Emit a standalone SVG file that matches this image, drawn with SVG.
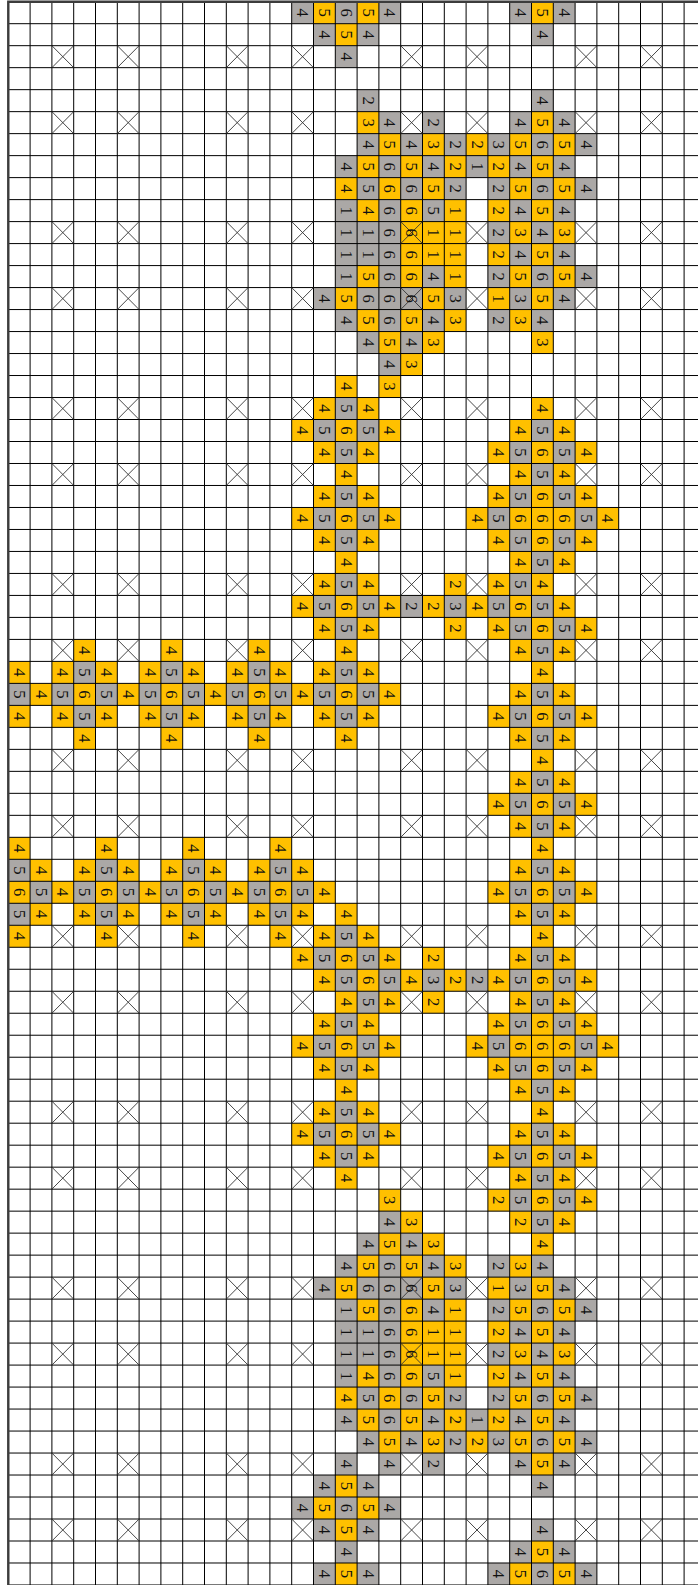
<svg xmlns="http://www.w3.org/2000/svg" width="698" height="1585" viewBox="0 0 698 1585">
<style>
.y{fill:#FFC000}
.g{fill:#ABA8A6}
.x{fill:none;stroke:#333;stroke-width:0.9}
.grid{fill:none;stroke:#000;stroke-width:1}
.border{fill:none;stroke:#3c3c3c;stroke-width:2.4}
.t text{font-family:"Liberation Serif",serif;font-size:15.2px;text-anchor:middle;dominant-baseline:central;fill:#111}
</style>
<rect width="698" height="1585" fill="#fff"/>
<g id="board" transform="translate(8.3 1.7) scale(1.09 1.0995)">
<path id="yellow-cells" class="y" d="
M280 0h20v20h-20zM320 0h20v20h-20zM480 0h20v20h-20z
M300 20h20v20h-20z
M320 100h20v20h-20zM480 100h20v20h-20z
M340 120h20v20h-20zM380 120h20v20h-20zM420 120h20v20h-20zM460 120h20v20h-20zM500 120h20v20h-20z
M320 140h20v20h-20zM360 140h20v20h-20zM400 140h20v20h-20zM440 140h20v20h-20zM480 140h20v20h-20z
M300 160h20v20h-20zM340 160h20v20h-20zM380 160h20v20h-20zM460 160h20v20h-20zM500 160h20v20h-20z
M320 180h20v20h-20zM360 180h20v20h-20zM400 180h20v20h-20zM440 180h20v20h-20zM480 180h20v20h-20z
M360 200h20v20h-20zM380 200h20v20h-20zM400 200h20v20h-20zM460 200h20v20h-20zM500 200h20v20h-20z
M360 220h20v20h-20zM380 220h20v20h-20zM400 220h20v20h-20zM440 220h20v20h-20zM480 220h20v20h-20z
M320 240h20v20h-20zM360 240h20v20h-20zM400 240h20v20h-20zM460 240h20v20h-20zM500 240h20v20h-20z
M300 260h20v20h-20zM380 260h20v20h-20zM440 260h20v20h-20zM480 260h20v20h-20z
M320 280h20v20h-20zM360 280h20v20h-20zM400 280h20v20h-20zM460 280h20v20h-20z
M340 300h20v20h-20zM380 300h20v20h-20zM480 300h20v20h-20z
M360 320h20v20h-20z
M300 340h20v20h-20zM340 340h20v20h-20z
M280 360h20v20h-20zM320 360h20v20h-20zM480 360h20v20h-20z
M260 380h20v20h-20zM300 380h20v20h-20zM340 380h20v20h-20zM460 380h20v20h-20zM500 380h20v20h-20z
M280 400h20v20h-20zM320 400h20v20h-20zM440 400h20v20h-20zM480 400h20v20h-20zM520 400h20v20h-20z
M300 420h20v20h-20zM460 420h20v20h-20zM500 420h20v20h-20z
M280 440h20v20h-20zM320 440h20v20h-20zM440 440h20v20h-20zM480 440h20v20h-20zM520 440h20v20h-20z
M260 460h20v20h-20zM300 460h20v20h-20zM340 460h20v20h-20zM420 460h20v20h-20zM460 460h20v20h-20zM480 460h20v20h-20zM500 460h20v20h-20zM540 460h20v20h-20z
M280 480h20v20h-20zM320 480h20v20h-20zM440 480h20v20h-20zM480 480h20v20h-20zM520 480h20v20h-20z
M300 500h20v20h-20zM460 500h20v20h-20zM500 500h20v20h-20z
M280 520h20v20h-20zM320 520h20v20h-20zM400 520h20v20h-20zM440 520h20v20h-20zM480 520h20v20h-20z
M260 540h20v20h-20zM300 540h20v20h-20zM340 540h20v20h-20zM380 540h20v20h-20zM420 540h20v20h-20zM460 540h20v20h-20zM500 540h20v20h-20z
M280 560h20v20h-20zM320 560h20v20h-20zM400 560h20v20h-20zM440 560h20v20h-20zM480 560h20v20h-20zM520 560h20v20h-20z
M60 580h20v20h-20zM140 580h20v20h-20zM220 580h20v20h-20zM300 580h20v20h-20zM460 580h20v20h-20zM500 580h20v20h-20z
M0 600h20v20h-20zM40 600h20v20h-20zM80 600h20v20h-20zM120 600h20v20h-20zM160 600h20v20h-20zM200 600h20v20h-20zM240 600h20v20h-20zM280 600h20v20h-20zM320 600h20v20h-20zM480 600h20v20h-20z
M20 620h20v20h-20zM60 620h20v20h-20zM100 620h20v20h-20zM140 620h20v20h-20zM180 620h20v20h-20zM220 620h20v20h-20zM260 620h20v20h-20zM300 620h20v20h-20zM340 620h20v20h-20zM460 620h20v20h-20zM500 620h20v20h-20z
M0 640h20v20h-20zM40 640h20v20h-20zM80 640h20v20h-20zM120 640h20v20h-20zM160 640h20v20h-20zM200 640h20v20h-20zM240 640h20v20h-20zM280 640h20v20h-20zM320 640h20v20h-20zM440 640h20v20h-20zM480 640h20v20h-20zM520 640h20v20h-20z
M60 660h20v20h-20zM140 660h20v20h-20zM220 660h20v20h-20zM300 660h20v20h-20zM460 660h20v20h-20zM500 660h20v20h-20z
M480 680h20v20h-20z
M460 700h20v20h-20zM500 700h20v20h-20z
M440 720h20v20h-20zM480 720h20v20h-20zM520 720h20v20h-20z
M460 740h20v20h-20zM500 740h20v20h-20z
M0 760h20v20h-20zM80 760h20v20h-20zM160 760h20v20h-20zM240 760h20v20h-20zM480 760h20v20h-20z
M20 780h20v20h-20zM60 780h20v20h-20zM100 780h20v20h-20zM140 780h20v20h-20zM180 780h20v20h-20zM220 780h20v20h-20zM260 780h20v20h-20zM460 780h20v20h-20zM500 780h20v20h-20z
M0 800h20v20h-20zM40 800h20v20h-20zM80 800h20v20h-20zM120 800h20v20h-20zM160 800h20v20h-20zM200 800h20v20h-20zM240 800h20v20h-20zM280 800h20v20h-20zM440 800h20v20h-20zM480 800h20v20h-20zM520 800h20v20h-20z
M20 820h20v20h-20zM60 820h20v20h-20zM100 820h20v20h-20zM140 820h20v20h-20zM180 820h20v20h-20zM220 820h20v20h-20zM260 820h20v20h-20zM300 820h20v20h-20zM460 820h20v20h-20zM500 820h20v20h-20z
M0 840h20v20h-20zM80 840h20v20h-20zM160 840h20v20h-20zM240 840h20v20h-20zM280 840h20v20h-20zM320 840h20v20h-20zM480 840h20v20h-20z
M260 860h20v20h-20zM300 860h20v20h-20zM340 860h20v20h-20zM380 860h20v20h-20zM460 860h20v20h-20zM500 860h20v20h-20z
M280 880h20v20h-20zM320 880h20v20h-20zM360 880h20v20h-20zM400 880h20v20h-20zM440 880h20v20h-20zM480 880h20v20h-20zM520 880h20v20h-20z
M300 900h20v20h-20zM340 900h20v20h-20zM380 900h20v20h-20zM460 900h20v20h-20zM500 900h20v20h-20z
M280 920h20v20h-20zM320 920h20v20h-20zM440 920h20v20h-20zM480 920h20v20h-20zM520 920h20v20h-20z
M260 940h20v20h-20zM300 940h20v20h-20zM340 940h20v20h-20zM420 940h20v20h-20zM460 940h20v20h-20zM480 940h20v20h-20zM500 940h20v20h-20zM540 940h20v20h-20z
M280 960h20v20h-20zM320 960h20v20h-20zM440 960h20v20h-20zM480 960h20v20h-20zM520 960h20v20h-20z
M300 980h20v20h-20zM460 980h20v20h-20zM500 980h20v20h-20z
M280 1000h20v20h-20zM320 1000h20v20h-20zM480 1000h20v20h-20z
M260 1020h20v20h-20zM300 1020h20v20h-20zM340 1020h20v20h-20zM460 1020h20v20h-20zM500 1020h20v20h-20z
M280 1040h20v20h-20zM320 1040h20v20h-20zM440 1040h20v20h-20zM480 1040h20v20h-20zM520 1040h20v20h-20z
M300 1060h20v20h-20zM460 1060h20v20h-20zM500 1060h20v20h-20z
M340 1080h20v20h-20zM440 1080h20v20h-20zM480 1080h20v20h-20zM520 1080h20v20h-20z
M360 1100h20v20h-20zM460 1100h20v20h-20zM500 1100h20v20h-20z
M340 1120h20v20h-20zM380 1120h20v20h-20zM480 1120h20v20h-20z
M320 1140h20v20h-20zM360 1140h20v20h-20zM400 1140h20v20h-20zM460 1140h20v20h-20z
M300 1160h20v20h-20zM380 1160h20v20h-20zM440 1160h20v20h-20zM480 1160h20v20h-20z
M320 1180h20v20h-20zM360 1180h20v20h-20zM400 1180h20v20h-20zM460 1180h20v20h-20zM500 1180h20v20h-20z
M360 1200h20v20h-20zM380 1200h20v20h-20zM400 1200h20v20h-20zM440 1200h20v20h-20zM480 1200h20v20h-20z
M360 1220h20v20h-20zM380 1220h20v20h-20zM400 1220h20v20h-20zM460 1220h20v20h-20zM500 1220h20v20h-20z
M320 1240h20v20h-20zM360 1240h20v20h-20zM400 1240h20v20h-20zM440 1240h20v20h-20zM480 1240h20v20h-20z
M300 1260h20v20h-20zM340 1260h20v20h-20zM380 1260h20v20h-20zM460 1260h20v20h-20zM500 1260h20v20h-20z
M320 1280h20v20h-20zM360 1280h20v20h-20zM400 1280h20v20h-20zM440 1280h20v20h-20zM480 1280h20v20h-20z
M340 1300h20v20h-20zM380 1300h20v20h-20zM420 1300h20v20h-20zM460 1300h20v20h-20zM500 1300h20v20h-20z
M480 1320h20v20h-20z
M300 1340h20v20h-20z
M280 1360h20v20h-20zM320 1360h20v20h-20z
M300 1380h20v20h-20z
M480 1400h20v20h-20z
M300 1420h20v20h-20zM460 1420h20v20h-20zM500 1420h20v20h-20z"/>
<path id="gray-cells" class="g" d="
M260 0h20v20h-20zM300 0h20v20h-20zM340 0h20v20h-20zM460 0h20v20h-20zM500 0h20v20h-20z
M280 20h20v20h-20zM320 20h20v20h-20zM480 20h20v20h-20z
M300 40h20v20h-20z
M320 80h20v20h-20zM480 80h20v20h-20z
M340 100h20v20h-20zM380 100h20v20h-20zM460 100h20v20h-20zM500 100h20v20h-20z
M320 120h20v20h-20zM360 120h20v20h-20zM400 120h20v20h-20zM440 120h20v20h-20zM480 120h20v20h-20zM520 120h20v20h-20z
M300 140h20v20h-20zM340 140h20v20h-20zM380 140h20v20h-20zM420 140h20v20h-20zM460 140h20v20h-20zM500 140h20v20h-20z
M320 160h20v20h-20zM360 160h20v20h-20zM400 160h20v20h-20zM440 160h20v20h-20zM480 160h20v20h-20zM520 160h20v20h-20z
M300 180h20v20h-20zM340 180h20v20h-20zM380 180h20v20h-20zM460 180h20v20h-20zM500 180h20v20h-20z
M300 200h20v20h-20zM320 200h20v20h-20zM340 200h20v20h-20zM440 200h20v20h-20zM480 200h20v20h-20z
M300 220h20v20h-20zM320 220h20v20h-20zM340 220h20v20h-20zM460 220h20v20h-20zM500 220h20v20h-20z
M300 240h20v20h-20zM340 240h20v20h-20zM380 240h20v20h-20zM440 240h20v20h-20zM480 240h20v20h-20zM520 240h20v20h-20z
M280 260h20v20h-20zM320 260h20v20h-20zM340 260h20v20h-20zM360 260h20v20h-20zM400 260h20v20h-20zM460 260h20v20h-20zM500 260h20v20h-20z
M300 280h20v20h-20zM340 280h20v20h-20zM380 280h20v20h-20zM440 280h20v20h-20zM480 280h20v20h-20z
M320 300h20v20h-20zM360 300h20v20h-20z
M340 320h20v20h-20z
M300 360h20v20h-20z
M280 380h20v20h-20zM320 380h20v20h-20zM480 380h20v20h-20z
M300 400h20v20h-20zM460 400h20v20h-20zM500 400h20v20h-20z
M480 420h20v20h-20z
M300 440h20v20h-20zM460 440h20v20h-20zM500 440h20v20h-20z
M280 460h20v20h-20zM320 460h20v20h-20zM440 460h20v20h-20zM520 460h20v20h-20z
M300 480h20v20h-20zM460 480h20v20h-20zM500 480h20v20h-20z
M480 500h20v20h-20z
M300 520h20v20h-20zM460 520h20v20h-20z
M280 540h20v20h-20zM320 540h20v20h-20zM360 540h20v20h-20zM400 540h20v20h-20zM440 540h20v20h-20zM480 540h20v20h-20z
M300 560h20v20h-20zM460 560h20v20h-20zM500 560h20v20h-20z
M480 580h20v20h-20z
M60 600h20v20h-20zM140 600h20v20h-20zM220 600h20v20h-20zM300 600h20v20h-20z
M0 620h20v20h-20zM40 620h20v20h-20zM80 620h20v20h-20zM120 620h20v20h-20zM160 620h20v20h-20zM200 620h20v20h-20zM240 620h20v20h-20zM280 620h20v20h-20zM320 620h20v20h-20zM480 620h20v20h-20z
M60 640h20v20h-20zM140 640h20v20h-20zM220 640h20v20h-20zM300 640h20v20h-20zM460 640h20v20h-20zM500 640h20v20h-20z
M480 660h20v20h-20z
M480 700h20v20h-20z
M460 720h20v20h-20zM500 720h20v20h-20z
M480 740h20v20h-20z
M0 780h20v20h-20zM80 780h20v20h-20zM160 780h20v20h-20zM240 780h20v20h-20zM480 780h20v20h-20z
M20 800h20v20h-20zM60 800h20v20h-20zM100 800h20v20h-20zM140 800h20v20h-20zM180 800h20v20h-20zM220 800h20v20h-20zM260 800h20v20h-20zM460 800h20v20h-20zM500 800h20v20h-20z
M0 820h20v20h-20zM80 820h20v20h-20zM160 820h20v20h-20zM240 820h20v20h-20zM480 820h20v20h-20z
M300 840h20v20h-20z
M280 860h20v20h-20zM320 860h20v20h-20zM480 860h20v20h-20z
M300 880h20v20h-20zM340 880h20v20h-20zM380 880h20v20h-20zM420 880h20v20h-20zM460 880h20v20h-20zM500 880h20v20h-20z
M320 900h20v20h-20zM480 900h20v20h-20z
M300 920h20v20h-20zM460 920h20v20h-20zM500 920h20v20h-20z
M280 940h20v20h-20zM320 940h20v20h-20zM440 940h20v20h-20zM520 940h20v20h-20z
M300 960h20v20h-20zM460 960h20v20h-20zM500 960h20v20h-20z
M480 980h20v20h-20z
M300 1000h20v20h-20z
M280 1020h20v20h-20zM320 1020h20v20h-20zM480 1020h20v20h-20z
M300 1040h20v20h-20zM460 1040h20v20h-20zM500 1040h20v20h-20z
M480 1060h20v20h-20z
M460 1080h20v20h-20zM500 1080h20v20h-20z
M340 1100h20v20h-20zM480 1100h20v20h-20z
M320 1120h20v20h-20zM360 1120h20v20h-20z
M300 1140h20v20h-20zM340 1140h20v20h-20zM380 1140h20v20h-20zM440 1140h20v20h-20zM480 1140h20v20h-20z
M280 1160h20v20h-20zM320 1160h20v20h-20zM340 1160h20v20h-20zM360 1160h20v20h-20zM400 1160h20v20h-20zM460 1160h20v20h-20zM500 1160h20v20h-20z
M300 1180h20v20h-20zM340 1180h20v20h-20zM380 1180h20v20h-20zM440 1180h20v20h-20zM480 1180h20v20h-20zM520 1180h20v20h-20z
M300 1200h20v20h-20zM320 1200h20v20h-20zM340 1200h20v20h-20zM460 1200h20v20h-20zM500 1200h20v20h-20z
M300 1220h20v20h-20zM320 1220h20v20h-20zM340 1220h20v20h-20zM440 1220h20v20h-20zM480 1220h20v20h-20z
M300 1240h20v20h-20zM340 1240h20v20h-20zM380 1240h20v20h-20zM460 1240h20v20h-20zM500 1240h20v20h-20z
M320 1260h20v20h-20zM360 1260h20v20h-20zM400 1260h20v20h-20zM440 1260h20v20h-20zM480 1260h20v20h-20zM520 1260h20v20h-20z
M300 1280h20v20h-20zM340 1280h20v20h-20zM380 1280h20v20h-20zM420 1280h20v20h-20zM460 1280h20v20h-20zM500 1280h20v20h-20z
M320 1300h20v20h-20zM360 1300h20v20h-20zM400 1300h20v20h-20zM440 1300h20v20h-20zM480 1300h20v20h-20zM520 1300h20v20h-20z
M300 1320h20v20h-20zM340 1320h20v20h-20zM380 1320h20v20h-20zM460 1320h20v20h-20zM500 1320h20v20h-20z
M280 1340h20v20h-20zM320 1340h20v20h-20zM480 1340h20v20h-20z
M260 1360h20v20h-20zM300 1360h20v20h-20zM340 1360h20v20h-20z
M280 1380h20v20h-20zM320 1380h20v20h-20zM480 1380h20v20h-20z
M300 1400h20v20h-20zM460 1400h20v20h-20zM500 1400h20v20h-20z
M280 1420h20v20h-20zM320 1420h20v20h-20zM440 1420h20v20h-20zM480 1420h20v20h-20zM520 1420h20v20h-20z"/>
<path id="grid" class="grid" vector-effect="non-scaling-stroke" d="M0 0V1442M20 0V1442M40 0V1442M60 0V1442M80 0V1442M100 0V1442M120 0V1442M140 0V1442M160 0V1442M180 0V1442M200 0V1442M220 0V1442M240 0V1442M260 0V1442M280 0V1442M300 0V1442M320 0V1442M340 0V1442M360 0V1442M380 0V1442M400 0V1442M420 0V1442M440 0V1442M460 0V1442M480 0V1442M500 0V1442M520 0V1442M540 0V1442M560 0V1442M580 0V1442M600 0V1442M620 0V1442M640 0V1442
M0 0H642M0 20H642M0 40H642M0 60H642M0 80H642M0 100H642M0 120H642M0 140H642M0 160H642M0 180H642M0 200H642M0 220H642M0 240H642M0 260H642M0 280H642M0 300H642M0 320H642M0 340H642M0 360H642M0 380H642M0 400H642M0 420H642M0 440H642M0 460H642M0 480H642M0 500H642M0 520H642M0 540H642M0 560H642M0 580H642M0 600H642M0 620H642M0 640H642M0 660H642M0 680H642M0 700H642M0 720H642M0 740H642M0 760H642M0 780H642M0 800H642M0 820H642M0 840H642M0 860H642M0 880H642M0 900H642M0 920H642M0 940H642M0 960H642M0 980H642M0 1000H642M0 1020H642M0 1040H642M0 1060H642M0 1080H642M0 1100H642M0 1120H642M0 1140H642M0 1160H642M0 1180H642M0 1200H642M0 1220H642M0 1240H642M0 1260H642M0 1280H642M0 1300H642M0 1320H642M0 1340H642M0 1360H642M0 1380H642M0 1400H642M0 1420H642M0 1440H642"/>
<path id="crosses" class="x" vector-effect="non-scaling-stroke" d="
M40 40l20 20m-20 0l20-20M100 40l20 20m-20 0l20-20M200 40l20 20m-20 0l20-20M260 40l20 20m-20 0l20-20M360 40l20 20m-20 0l20-20M420 40l20 20m-20 0l20-20M520 40l20 20m-20 0l20-20M580 40l20 20m-20 0l20-20
M40 100l20 20m-20 0l20-20M100 100l20 20m-20 0l20-20M200 100l20 20m-20 0l20-20M260 100l20 20m-20 0l20-20M360 100l20 20m-20 0l20-20M420 100l20 20m-20 0l20-20M520 100l20 20m-20 0l20-20M580 100l20 20m-20 0l20-20
M40 200l20 20m-20 0l20-20M100 200l20 20m-20 0l20-20M200 200l20 20m-20 0l20-20M260 200l20 20m-20 0l20-20M360 200l20 20m-20 0l20-20M420 200l20 20m-20 0l20-20M520 200l20 20m-20 0l20-20M580 200l20 20m-20 0l20-20
M40 260l20 20m-20 0l20-20M100 260l20 20m-20 0l20-20M200 260l20 20m-20 0l20-20M260 260l20 20m-20 0l20-20M360 260l20 20m-20 0l20-20M420 260l20 20m-20 0l20-20M520 260l20 20m-20 0l20-20M580 260l20 20m-20 0l20-20
M40 360l20 20m-20 0l20-20M100 360l20 20m-20 0l20-20M200 360l20 20m-20 0l20-20M260 360l20 20m-20 0l20-20M360 360l20 20m-20 0l20-20M420 360l20 20m-20 0l20-20M520 360l20 20m-20 0l20-20M580 360l20 20m-20 0l20-20
M40 420l20 20m-20 0l20-20M100 420l20 20m-20 0l20-20M200 420l20 20m-20 0l20-20M260 420l20 20m-20 0l20-20M360 420l20 20m-20 0l20-20M420 420l20 20m-20 0l20-20M520 420l20 20m-20 0l20-20M580 420l20 20m-20 0l20-20
M40 520l20 20m-20 0l20-20M100 520l20 20m-20 0l20-20M200 520l20 20m-20 0l20-20M260 520l20 20m-20 0l20-20M360 520l20 20m-20 0l20-20M420 520l20 20m-20 0l20-20M520 520l20 20m-20 0l20-20M580 520l20 20m-20 0l20-20
M40 580l20 20m-20 0l20-20M100 580l20 20m-20 0l20-20M200 580l20 20m-20 0l20-20M260 580l20 20m-20 0l20-20M360 580l20 20m-20 0l20-20M420 580l20 20m-20 0l20-20M520 580l20 20m-20 0l20-20M580 580l20 20m-20 0l20-20
M40 680l20 20m-20 0l20-20M100 680l20 20m-20 0l20-20M200 680l20 20m-20 0l20-20M260 680l20 20m-20 0l20-20M360 680l20 20m-20 0l20-20M420 680l20 20m-20 0l20-20M520 680l20 20m-20 0l20-20M580 680l20 20m-20 0l20-20
M40 740l20 20m-20 0l20-20M100 740l20 20m-20 0l20-20M200 740l20 20m-20 0l20-20M260 740l20 20m-20 0l20-20M360 740l20 20m-20 0l20-20M420 740l20 20m-20 0l20-20M520 740l20 20m-20 0l20-20M580 740l20 20m-20 0l20-20
M40 840l20 20m-20 0l20-20M100 840l20 20m-20 0l20-20M200 840l20 20m-20 0l20-20M260 840l20 20m-20 0l20-20M360 840l20 20m-20 0l20-20M420 840l20 20m-20 0l20-20M520 840l20 20m-20 0l20-20M580 840l20 20m-20 0l20-20
M40 900l20 20m-20 0l20-20M100 900l20 20m-20 0l20-20M200 900l20 20m-20 0l20-20M260 900l20 20m-20 0l20-20M360 900l20 20m-20 0l20-20M420 900l20 20m-20 0l20-20M520 900l20 20m-20 0l20-20M580 900l20 20m-20 0l20-20
M40 1000l20 20m-20 0l20-20M100 1000l20 20m-20 0l20-20M200 1000l20 20m-20 0l20-20M260 1000l20 20m-20 0l20-20M360 1000l20 20m-20 0l20-20M420 1000l20 20m-20 0l20-20M520 1000l20 20m-20 0l20-20M580 1000l20 20m-20 0l20-20
M40 1060l20 20m-20 0l20-20M100 1060l20 20m-20 0l20-20M200 1060l20 20m-20 0l20-20M260 1060l20 20m-20 0l20-20M360 1060l20 20m-20 0l20-20M420 1060l20 20m-20 0l20-20M520 1060l20 20m-20 0l20-20M580 1060l20 20m-20 0l20-20
M40 1160l20 20m-20 0l20-20M100 1160l20 20m-20 0l20-20M200 1160l20 20m-20 0l20-20M260 1160l20 20m-20 0l20-20M360 1160l20 20m-20 0l20-20M420 1160l20 20m-20 0l20-20M520 1160l20 20m-20 0l20-20M580 1160l20 20m-20 0l20-20
M40 1220l20 20m-20 0l20-20M100 1220l20 20m-20 0l20-20M200 1220l20 20m-20 0l20-20M260 1220l20 20m-20 0l20-20M360 1220l20 20m-20 0l20-20M420 1220l20 20m-20 0l20-20M520 1220l20 20m-20 0l20-20M580 1220l20 20m-20 0l20-20
M40 1320l20 20m-20 0l20-20M100 1320l20 20m-20 0l20-20M200 1320l20 20m-20 0l20-20M260 1320l20 20m-20 0l20-20M360 1320l20 20m-20 0l20-20M420 1320l20 20m-20 0l20-20M520 1320l20 20m-20 0l20-20M580 1320l20 20m-20 0l20-20
M40 1380l20 20m-20 0l20-20M100 1380l20 20m-20 0l20-20M200 1380l20 20m-20 0l20-20M260 1380l20 20m-20 0l20-20M360 1380l20 20m-20 0l20-20M420 1380l20 20m-20 0l20-20M520 1380l20 20m-20 0l20-20M580 1380l20 20m-20 0l20-20"/>
<path id="frame" class="border" vector-effect="non-scaling-stroke" d="M0 1442V0H642"/>
<g id="numbers" class="t" transform="rotate(90)">
<text x="10" y="-270">4</text><text x="10" y="-290">5</text><text x="10" y="-310">6</text><text x="10" y="-330">5</text><text x="10" y="-350">4</text><text x="10" y="-470">4</text><text x="10" y="-490">5</text><text x="10" y="-510">4</text>
<text x="30" y="-290">4</text><text x="30" y="-310">5</text><text x="30" y="-330">4</text><text x="30" y="-490">4</text>
<text x="50" y="-310">4</text>
<text x="90" y="-330">2</text><text x="90" y="-490">4</text>
<text x="110" y="-330">3</text><text x="110" y="-350">4</text><text x="110" y="-390">2</text><text x="110" y="-470">4</text><text x="110" y="-490">5</text><text x="110" y="-510">4</text>
<text x="130" y="-330">4</text><text x="130" y="-350">5</text><text x="130" y="-370">4</text><text x="130" y="-390">3</text><text x="130" y="-410">2</text><text x="130" y="-430">2</text><text x="130" y="-450">3</text><text x="130" y="-470">5</text><text x="130" y="-490">6</text><text x="130" y="-510">5</text><text x="130" y="-530">4</text>
<text x="150" y="-310">4</text><text x="150" y="-330">5</text><text x="150" y="-350">6</text><text x="150" y="-370">5</text><text x="150" y="-390">4</text><text x="150" y="-410">2</text><text x="150" y="-430">1</text><text x="150" y="-450">2</text><text x="150" y="-470">4</text><text x="150" y="-490">5</text><text x="150" y="-510">4</text>
<text x="170" y="-310">4</text><text x="170" y="-330">5</text><text x="170" y="-350">6</text><text x="170" y="-370">6</text><text x="170" y="-390">5</text><text x="170" y="-410">2</text><text x="170" y="-450">2</text><text x="170" y="-470">5</text><text x="170" y="-490">6</text><text x="170" y="-510">5</text><text x="170" y="-530">4</text>
<text x="190" y="-310">1</text><text x="190" y="-330">4</text><text x="190" y="-350">6</text><text x="190" y="-370">6</text><text x="190" y="-390">5</text><text x="190" y="-410">1</text><text x="190" y="-450">2</text><text x="190" y="-470">4</text><text x="190" y="-490">5</text><text x="190" y="-510">4</text>
<text x="210" y="-310">1</text><text x="210" y="-330">1</text><text x="210" y="-350">6</text><text x="210" y="-370">6</text><text x="210" y="-390">1</text><text x="210" y="-410">1</text><text x="210" y="-450">2</text><text x="210" y="-470">3</text><text x="210" y="-490">4</text><text x="210" y="-510">3</text>
<text x="230" y="-310">1</text><text x="230" y="-330">1</text><text x="230" y="-350">6</text><text x="230" y="-370">6</text><text x="230" y="-390">1</text><text x="230" y="-410">1</text><text x="230" y="-450">2</text><text x="230" y="-470">4</text><text x="230" y="-490">5</text><text x="230" y="-510">4</text>
<text x="250" y="-310">1</text><text x="250" y="-330">5</text><text x="250" y="-350">6</text><text x="250" y="-370">6</text><text x="250" y="-390">4</text><text x="250" y="-410">1</text><text x="250" y="-450">2</text><text x="250" y="-470">5</text><text x="250" y="-490">6</text><text x="250" y="-510">5</text><text x="250" y="-530">4</text>
<text x="270" y="-290">4</text><text x="270" y="-310">5</text><text x="270" y="-330">6</text><text x="270" y="-350">6</text><text x="270" y="-370">6</text><text x="270" y="-390">5</text><text x="270" y="-410">3</text><text x="270" y="-450">1</text><text x="270" y="-470">3</text><text x="270" y="-490">5</text><text x="270" y="-510">4</text>
<text x="290" y="-310">4</text><text x="290" y="-330">5</text><text x="290" y="-350">6</text><text x="290" y="-370">5</text><text x="290" y="-390">4</text><text x="290" y="-410">3</text><text x="290" y="-450">2</text><text x="290" y="-470">3</text><text x="290" y="-490">4</text>
<text x="310" y="-330">4</text><text x="310" y="-350">5</text><text x="310" y="-370">4</text><text x="310" y="-390">3</text><text x="310" y="-490">3</text>
<text x="330" y="-350">4</text><text x="330" y="-370">3</text>
<text x="350" y="-310">4</text><text x="350" y="-350">3</text>
<text x="370" y="-290">4</text><text x="370" y="-310">5</text><text x="370" y="-330">4</text><text x="370" y="-490">4</text>
<text x="390" y="-270">4</text><text x="390" y="-290">5</text><text x="390" y="-310">6</text><text x="390" y="-330">5</text><text x="390" y="-350">4</text><text x="390" y="-470">4</text><text x="390" y="-490">5</text><text x="390" y="-510">4</text>
<text x="410" y="-290">4</text><text x="410" y="-310">5</text><text x="410" y="-330">4</text><text x="410" y="-450">4</text><text x="410" y="-470">5</text><text x="410" y="-490">6</text><text x="410" y="-510">5</text><text x="410" y="-530">4</text>
<text x="430" y="-310">4</text><text x="430" y="-470">4</text><text x="430" y="-490">5</text><text x="430" y="-510">4</text>
<text x="450" y="-290">4</text><text x="450" y="-310">5</text><text x="450" y="-330">4</text><text x="450" y="-450">4</text><text x="450" y="-470">5</text><text x="450" y="-490">6</text><text x="450" y="-510">5</text><text x="450" y="-530">4</text>
<text x="470" y="-270">4</text><text x="470" y="-290">5</text><text x="470" y="-310">6</text><text x="470" y="-330">5</text><text x="470" y="-350">4</text><text x="470" y="-430">4</text><text x="470" y="-450">5</text><text x="470" y="-470">6</text><text x="470" y="-490">6</text><text x="470" y="-510">6</text><text x="470" y="-530">5</text><text x="470" y="-550">4</text>
<text x="490" y="-290">4</text><text x="490" y="-310">5</text><text x="490" y="-330">4</text><text x="490" y="-450">4</text><text x="490" y="-470">5</text><text x="490" y="-490">6</text><text x="490" y="-510">5</text><text x="490" y="-530">4</text>
<text x="510" y="-310">4</text><text x="510" y="-470">4</text><text x="510" y="-490">5</text><text x="510" y="-510">4</text>
<text x="530" y="-290">4</text><text x="530" y="-310">5</text><text x="530" y="-330">4</text><text x="530" y="-410">2</text><text x="530" y="-450">4</text><text x="530" y="-470">5</text><text x="530" y="-490">4</text>
<text x="550" y="-270">4</text><text x="550" y="-290">5</text><text x="550" y="-310">6</text><text x="550" y="-330">5</text><text x="550" y="-350">4</text><text x="550" y="-370">2</text><text x="550" y="-390">2</text><text x="550" y="-410">3</text><text x="550" y="-430">4</text><text x="550" y="-450">5</text><text x="550" y="-470">6</text><text x="550" y="-490">5</text><text x="550" y="-510">4</text>
<text x="570" y="-290">4</text><text x="570" y="-310">5</text><text x="570" y="-330">4</text><text x="570" y="-410">2</text><text x="570" y="-450">4</text><text x="570" y="-470">5</text><text x="570" y="-490">6</text><text x="570" y="-510">5</text><text x="570" y="-530">4</text>
<text x="590" y="-70">4</text><text x="590" y="-150">4</text><text x="590" y="-230">4</text><text x="590" y="-310">4</text><text x="590" y="-470">4</text><text x="590" y="-490">5</text><text x="590" y="-510">4</text>
<text x="610" y="-10">4</text><text x="610" y="-50">4</text><text x="610" y="-70">5</text><text x="610" y="-90">4</text><text x="610" y="-130">4</text><text x="610" y="-150">5</text><text x="610" y="-170">4</text><text x="610" y="-210">4</text><text x="610" y="-230">5</text><text x="610" y="-250">4</text><text x="610" y="-290">4</text><text x="610" y="-310">5</text><text x="610" y="-330">4</text><text x="610" y="-490">4</text>
<text x="630" y="-10">5</text><text x="630" y="-30">4</text><text x="630" y="-50">5</text><text x="630" y="-70">6</text><text x="630" y="-90">5</text><text x="630" y="-110">4</text><text x="630" y="-130">5</text><text x="630" y="-150">6</text><text x="630" y="-170">5</text><text x="630" y="-190">4</text><text x="630" y="-210">5</text><text x="630" y="-230">6</text><text x="630" y="-250">5</text><text x="630" y="-270">4</text><text x="630" y="-290">5</text><text x="630" y="-310">6</text><text x="630" y="-330">5</text><text x="630" y="-350">4</text><text x="630" y="-470">4</text><text x="630" y="-490">5</text><text x="630" y="-510">4</text>
<text x="650" y="-10">4</text><text x="650" y="-50">4</text><text x="650" y="-70">5</text><text x="650" y="-90">4</text><text x="650" y="-130">4</text><text x="650" y="-150">5</text><text x="650" y="-170">4</text><text x="650" y="-210">4</text><text x="650" y="-230">5</text><text x="650" y="-250">4</text><text x="650" y="-290">4</text><text x="650" y="-310">5</text><text x="650" y="-330">4</text><text x="650" y="-450">4</text><text x="650" y="-470">5</text><text x="650" y="-490">6</text><text x="650" y="-510">5</text><text x="650" y="-530">4</text>
<text x="670" y="-70">4</text><text x="670" y="-150">4</text><text x="670" y="-230">4</text><text x="670" y="-310">4</text><text x="670" y="-470">4</text><text x="670" y="-490">5</text><text x="670" y="-510">4</text>
<text x="690" y="-490">4</text>
<text x="710" y="-470">4</text><text x="710" y="-490">5</text><text x="710" y="-510">4</text>
<text x="730" y="-450">4</text><text x="730" y="-470">5</text><text x="730" y="-490">6</text><text x="730" y="-510">5</text><text x="730" y="-530">4</text>
<text x="750" y="-470">4</text><text x="750" y="-490">5</text><text x="750" y="-510">4</text>
<text x="770" y="-10">4</text><text x="770" y="-90">4</text><text x="770" y="-170">4</text><text x="770" y="-250">4</text><text x="770" y="-490">4</text>
<text x="790" y="-10">5</text><text x="790" y="-30">4</text><text x="790" y="-70">4</text><text x="790" y="-90">5</text><text x="790" y="-110">4</text><text x="790" y="-150">4</text><text x="790" y="-170">5</text><text x="790" y="-190">4</text><text x="790" y="-230">4</text><text x="790" y="-250">5</text><text x="790" y="-270">4</text><text x="790" y="-470">4</text><text x="790" y="-490">5</text><text x="790" y="-510">4</text>
<text x="810" y="-10">6</text><text x="810" y="-30">5</text><text x="810" y="-50">4</text><text x="810" y="-70">5</text><text x="810" y="-90">6</text><text x="810" y="-110">5</text><text x="810" y="-130">4</text><text x="810" y="-150">5</text><text x="810" y="-170">6</text><text x="810" y="-190">5</text><text x="810" y="-210">4</text><text x="810" y="-230">5</text><text x="810" y="-250">6</text><text x="810" y="-270">5</text><text x="810" y="-290">4</text><text x="810" y="-450">4</text><text x="810" y="-470">5</text><text x="810" y="-490">6</text><text x="810" y="-510">5</text><text x="810" y="-530">4</text>
<text x="830" y="-10">5</text><text x="830" y="-30">4</text><text x="830" y="-70">4</text><text x="830" y="-90">5</text><text x="830" y="-110">4</text><text x="830" y="-150">4</text><text x="830" y="-170">5</text><text x="830" y="-190">4</text><text x="830" y="-230">4</text><text x="830" y="-250">5</text><text x="830" y="-270">4</text><text x="830" y="-310">4</text><text x="830" y="-470">4</text><text x="830" y="-490">5</text><text x="830" y="-510">4</text>
<text x="850" y="-10">4</text><text x="850" y="-90">4</text><text x="850" y="-170">4</text><text x="850" y="-250">4</text><text x="850" y="-290">4</text><text x="850" y="-310">5</text><text x="850" y="-330">4</text><text x="850" y="-490">4</text>
<text x="870" y="-270">4</text><text x="870" y="-290">5</text><text x="870" y="-310">6</text><text x="870" y="-330">5</text><text x="870" y="-350">4</text><text x="870" y="-390">2</text><text x="870" y="-470">4</text><text x="870" y="-490">5</text><text x="870" y="-510">4</text>
<text x="890" y="-290">4</text><text x="890" y="-310">5</text><text x="890" y="-330">6</text><text x="890" y="-350">5</text><text x="890" y="-370">4</text><text x="890" y="-390">3</text><text x="890" y="-410">2</text><text x="890" y="-430">2</text><text x="890" y="-450">4</text><text x="890" y="-470">5</text><text x="890" y="-490">6</text><text x="890" y="-510">5</text><text x="890" y="-530">4</text>
<text x="910" y="-310">4</text><text x="910" y="-330">5</text><text x="910" y="-350">4</text><text x="910" y="-390">2</text><text x="910" y="-470">4</text><text x="910" y="-490">5</text><text x="910" y="-510">4</text>
<text x="930" y="-290">4</text><text x="930" y="-310">5</text><text x="930" y="-330">4</text><text x="930" y="-450">4</text><text x="930" y="-470">5</text><text x="930" y="-490">6</text><text x="930" y="-510">5</text><text x="930" y="-530">4</text>
<text x="950" y="-270">4</text><text x="950" y="-290">5</text><text x="950" y="-310">6</text><text x="950" y="-330">5</text><text x="950" y="-350">4</text><text x="950" y="-430">4</text><text x="950" y="-450">5</text><text x="950" y="-470">6</text><text x="950" y="-490">6</text><text x="950" y="-510">6</text><text x="950" y="-530">5</text><text x="950" y="-550">4</text>
<text x="970" y="-290">4</text><text x="970" y="-310">5</text><text x="970" y="-330">4</text><text x="970" y="-450">4</text><text x="970" y="-470">5</text><text x="970" y="-490">6</text><text x="970" y="-510">5</text><text x="970" y="-530">4</text>
<text x="990" y="-310">4</text><text x="990" y="-470">4</text><text x="990" y="-490">5</text><text x="990" y="-510">4</text>
<text x="1010" y="-290">4</text><text x="1010" y="-310">5</text><text x="1010" y="-330">4</text><text x="1010" y="-490">4</text>
<text x="1030" y="-270">4</text><text x="1030" y="-290">5</text><text x="1030" y="-310">6</text><text x="1030" y="-330">5</text><text x="1030" y="-350">4</text><text x="1030" y="-470">4</text><text x="1030" y="-490">5</text><text x="1030" y="-510">4</text>
<text x="1050" y="-290">4</text><text x="1050" y="-310">5</text><text x="1050" y="-330">4</text><text x="1050" y="-450">4</text><text x="1050" y="-470">5</text><text x="1050" y="-490">6</text><text x="1050" y="-510">5</text><text x="1050" y="-530">4</text>
<text x="1070" y="-310">4</text><text x="1070" y="-470">4</text><text x="1070" y="-490">5</text><text x="1070" y="-510">4</text>
<text x="1090" y="-350">3</text><text x="1090" y="-450">2</text><text x="1090" y="-470">5</text><text x="1090" y="-490">6</text><text x="1090" y="-510">5</text><text x="1090" y="-530">4</text>
<text x="1110" y="-350">4</text><text x="1110" y="-370">3</text><text x="1110" y="-470">2</text><text x="1110" y="-490">5</text><text x="1110" y="-510">4</text>
<text x="1130" y="-330">4</text><text x="1130" y="-350">5</text><text x="1130" y="-370">4</text><text x="1130" y="-390">3</text><text x="1130" y="-490">4</text>
<text x="1150" y="-310">4</text><text x="1150" y="-330">5</text><text x="1150" y="-350">6</text><text x="1150" y="-370">5</text><text x="1150" y="-390">4</text><text x="1150" y="-410">3</text><text x="1150" y="-450">2</text><text x="1150" y="-470">3</text><text x="1150" y="-490">4</text>
<text x="1170" y="-290">4</text><text x="1170" y="-310">5</text><text x="1170" y="-330">6</text><text x="1170" y="-350">6</text><text x="1170" y="-370">6</text><text x="1170" y="-390">5</text><text x="1170" y="-410">3</text><text x="1170" y="-450">1</text><text x="1170" y="-470">3</text><text x="1170" y="-490">5</text><text x="1170" y="-510">4</text>
<text x="1190" y="-310">1</text><text x="1190" y="-330">5</text><text x="1190" y="-350">6</text><text x="1190" y="-370">6</text><text x="1190" y="-390">4</text><text x="1190" y="-410">1</text><text x="1190" y="-450">2</text><text x="1190" y="-470">5</text><text x="1190" y="-490">6</text><text x="1190" y="-510">5</text><text x="1190" y="-530">4</text>
<text x="1210" y="-310">1</text><text x="1210" y="-330">1</text><text x="1210" y="-350">6</text><text x="1210" y="-370">6</text><text x="1210" y="-390">1</text><text x="1210" y="-410">1</text><text x="1210" y="-450">2</text><text x="1210" y="-470">4</text><text x="1210" y="-490">5</text><text x="1210" y="-510">4</text>
<text x="1230" y="-310">1</text><text x="1230" y="-330">1</text><text x="1230" y="-350">6</text><text x="1230" y="-370">6</text><text x="1230" y="-390">1</text><text x="1230" y="-410">1</text><text x="1230" y="-450">2</text><text x="1230" y="-470">3</text><text x="1230" y="-490">4</text><text x="1230" y="-510">3</text>
<text x="1250" y="-310">1</text><text x="1250" y="-330">4</text><text x="1250" y="-350">6</text><text x="1250" y="-370">6</text><text x="1250" y="-390">5</text><text x="1250" y="-410">1</text><text x="1250" y="-450">2</text><text x="1250" y="-470">4</text><text x="1250" y="-490">5</text><text x="1250" y="-510">4</text>
<text x="1270" y="-310">4</text><text x="1270" y="-330">5</text><text x="1270" y="-350">6</text><text x="1270" y="-370">6</text><text x="1270" y="-390">5</text><text x="1270" y="-410">2</text><text x="1270" y="-450">2</text><text x="1270" y="-470">5</text><text x="1270" y="-490">6</text><text x="1270" y="-510">5</text><text x="1270" y="-530">4</text>
<text x="1290" y="-310">4</text><text x="1290" y="-330">5</text><text x="1290" y="-350">6</text><text x="1290" y="-370">5</text><text x="1290" y="-390">4</text><text x="1290" y="-410">2</text><text x="1290" y="-430">1</text><text x="1290" y="-450">2</text><text x="1290" y="-470">4</text><text x="1290" y="-490">5</text><text x="1290" y="-510">4</text>
<text x="1310" y="-330">4</text><text x="1310" y="-350">5</text><text x="1310" y="-370">4</text><text x="1310" y="-390">3</text><text x="1310" y="-410">2</text><text x="1310" y="-430">2</text><text x="1310" y="-450">3</text><text x="1310" y="-470">5</text><text x="1310" y="-490">6</text><text x="1310" y="-510">5</text><text x="1310" y="-530">4</text>
<text x="1330" y="-310">4</text><text x="1330" y="-350">4</text><text x="1330" y="-390">2</text><text x="1330" y="-470">4</text><text x="1330" y="-490">5</text><text x="1330" y="-510">4</text>
<text x="1350" y="-290">4</text><text x="1350" y="-310">5</text><text x="1350" y="-330">4</text><text x="1350" y="-490">4</text>
<text x="1370" y="-270">4</text><text x="1370" y="-290">5</text><text x="1370" y="-310">6</text><text x="1370" y="-330">5</text><text x="1370" y="-350">4</text>
<text x="1390" y="-290">4</text><text x="1390" y="-310">5</text><text x="1390" y="-330">4</text><text x="1390" y="-490">4</text>
<text x="1410" y="-310">4</text><text x="1410" y="-470">4</text><text x="1410" y="-490">5</text><text x="1410" y="-510">4</text>
<text x="1430" y="-290">4</text><text x="1430" y="-310">5</text><text x="1430" y="-330">4</text><text x="1430" y="-450">4</text><text x="1430" y="-470">5</text><text x="1430" y="-490">6</text><text x="1430" y="-510">5</text><text x="1430" y="-530">4</text>
</g>
</g>
</svg>
